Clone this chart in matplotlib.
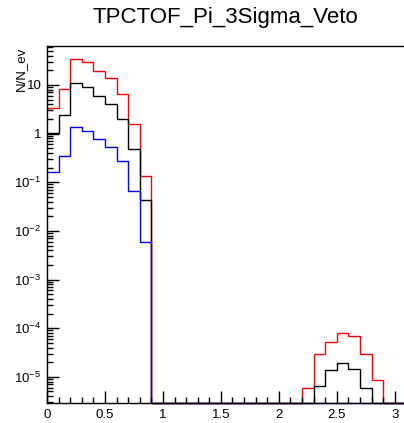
import numpy as np
import matplotlib
matplotlib.use("Agg")
import matplotlib.pyplot as plt
from matplotlib.ticker import FixedLocator, LogLocator, NullFormatter, MultipleLocator

plt.rcParams['font.family'] = ['Liberation Sans', 'DejaVu Sans']
plt.rcParams['mathtext.fontset'] = 'custom'
plt.rcParams['mathtext.rm'] = 'Liberation Sans'
plt.rcParams['mathtext.it'] = 'Liberation Sans'

title = "TPCTOF_Pi_3Sigma_Veto"
ylabel = "N/N_ev"
edges = np.round(np.arange(0, 3.1001, 0.1), 2)

red = [3.3, 8.1, 34, 30, 19.5, 13.8, 6.6, 1.55, 0.134] + [0]*13 + \
      [5.8e-6, 3.0e-5, 5.1e-5, 8.1e-5, 6.9e-5, 2.9e-5, 8.8e-6, 0, 0]
black = [1.02, 2.4, 10.7, 9.1, 5.9, 4.0, 1.97, 0.49, 0.043] + [0]*13 + \
        [0, 6.4e-6, 1.37e-5, 1.9e-5, 1.44e-5, 6.0e-6, 0, 0, 0]
blue = [0.165, 0.345, 1.39, 1.13, 0.76, 0.52, 0.27, 0.066, 0.006] + [0]*22

ymin, ymax = 2.9e-6, 63
xmax = 3.08

fig = plt.figure(figsize=(4.04, 4.23), dpi=100)
ax = fig.add_axes([47/404, 20/423, 1 - 47/404, (423-46-20)/423])
ax.set_yscale('log')

for vals, col in [(red, '#ff0000'), (black, '#000000'), (blue, '#0000ff')]:
    v = np.maximum(np.array(vals, dtype=float), ymin)
    ax.stairs(v, edges, baseline=None, color=col, lw=1.0, clip_on=False)

ax.set_xlim(0, xmax)
ax.set_ylim(ymin, ymax)

ax.spines['right'].set_visible(False)
for s in ['left', 'bottom', 'top']:
    ax.spines[s].set_linewidth(1.0)

ax.xaxis.set_major_locator(FixedLocator([0, 0.5, 1, 1.5, 2, 2.5, 3]))
ax.xaxis.set_minor_locator(MultipleLocator(0.1))
ax.set_xticklabels(['0', '0.5', '1', '1.5', '2', '2.5', '3'])
ax.yaxis.set_major_locator(FixedLocator([1e-5, 1e-4, 1e-3, 1e-2, 1e-1, 1, 10]))
ax.set_yticklabels([r'$10^{-5}$', r'$10^{-4}$', r'$10^{-3}$', r'$10^{-2}$',
                    r'$10^{-1}$', '1', '10'])
ax.yaxis.set_minor_locator(LogLocator(base=10, subs=np.arange(2, 10), numticks=20))
ax.yaxis.set_minor_formatter(NullFormatter())

ax.tick_params(which='major', direction='in', length=8.3, width=1.0,
               labelsize=9.5, top=False, right=False, pad=4)
ax.tick_params(which='minor', direction='in', length=4.5, width=1.0,
               top=False, right=False)

fig.text(225/404, 1 - 17/423, title, ha='center', va='center', fontsize=16)
fig.text(20.5/404, 1 - 47/423, ylabel, ha='center', va='top', rotation=90, fontsize=9.5)

fig.savefig('out.png', dpi=100)
